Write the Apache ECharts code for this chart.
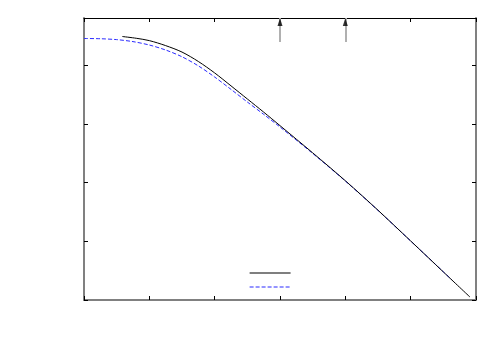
<!DOCTYPE html>
<html>
<head>
<meta charset="utf-8">
<script src="https://cdn.jsdelivr.net/npm/echarts@6/dist/echarts.min.js"></script>
<style>
  html, body { margin: 0; padding: 0; background: #fff; }
  #chart { width: 500px; height: 350px; }
</style>
</head>
<body>
<div id="chart"></div>
<script>
// values (axes carry no labels)
const blackX = [0.586, 0.8, 1.0, 1.25, 1.5, 1.75, 2.0, 2.25, 2.5, 2.75, 3.0, 3.5, 4.0, 4.5, 5.0, 5.5, 5.908];
const blackY = [4.485, 4.455, 4.415, 4.33, 4.22, 4.06, 3.865, 3.645, 3.422, 3.198, 2.968, 2.505, 2.03, 1.528, 1.005, 0.478, 0.05];

const blueX = [0, 0.25, 0.5, 0.75, 1.0, 1.25, 1.5, 1.75, 2.0, 2.25, 2.5, 2.75, 3.0, 3.5, 4.0, 4.5, 5.0, 5.5, 5.628];
const blueY = [4.451, 4.447, 4.432, 4.398, 4.34, 4.255, 4.14, 3.985, 3.795, 3.585, 3.37, 3.16, 2.945, 2.495, 2.025, 1.525, 1.004, 0.48, 0.345];

// vertical arrows on the top edge
const arrowX = [3, 4];
const arrowFrom = 4.39;
const arrowTo = 4.8;

const toPairs = (xs, ys) => xs.map((x, i) => [x, ys[i]]);

const myChart = echarts.init(document.getElementById('chart'));

const tick = () => ({ show: true, inside: true, length: 4, lineStyle: { color: '#000', width: 1 } });
const axisLine = (color, width) => ({ show: true, onZero: false, lineStyle: { color: color, width: width } });

myChart.setOption({
  animation: false,
  grid: { left: 84, right: 24, top: 18, bottom: 50 },
  legend: {
    orient: 'vertical',
    left: 249,
    top: 268,
    padding: 0,
    itemWidth: 41,
    itemHeight: 10,
    itemGap: 5,
    itemStyle: { opacity: 0 },
    lineStyle: { width: 1.2 },
    formatter: () => '',
    data: ['a', 'b']
  },
  xAxis: [
    {
      type: 'value', min: 0, max: 6, interval: 1, position: 'bottom',
      axisLine: axisLine('#808080', 2),
      axisTick: tick(),
      axisLabel: { show: false },
      splitLine: { show: false }
    },
    {
      type: 'value', min: 0, max: 6, interval: 1, position: 'top',
      axisLine: axisLine('#000', 1),
      axisTick: tick(),
      axisLabel: { show: false },
      splitLine: { show: false }
    }
  ],
  yAxis: [
    {
      type: 'value', min: 0, max: 4.8, interval: 1, position: 'left',
      axisLine: axisLine('#808080', 2),
      axisTick: tick(),
      axisLabel: { show: false },
      splitLine: { show: false }
    },
    {
      type: 'value', min: 0, max: 4.8, interval: 1, position: 'right',
      axisLine: axisLine('#808080', 2),
      axisTick: tick(),
      axisLabel: { show: false },
      splitLine: { show: false }
    }
  ],
  series: [
    {
      name: 'b',
      type: 'line',
      data: toPairs(blueX, blueY),
      smooth: 0.3,
      symbol: 'none',
      lineStyle: { color: '#2a2aff', width: 1, type: [4, 2] },
      itemStyle: { color: '#2a2aff' }
    },
    {
      name: 'a',
      type: 'line',
      data: toPairs(blackX, blackY),
      smooth: 0.3,
      symbol: 'none',
      lineStyle: { color: '#000', width: 1 },
      itemStyle: { color: '#000' },
      markLine: {
        silent: true,
        symbol: ['none', 'none'],
        label: { show: false },
        lineStyle: { color: '#b0b0b0', width: 2, type: 'solid' },
        data: arrowX.map(x => [{ coord: [x, arrowFrom] }, { coord: [x, arrowTo] }])
      }
    },
    {
      type: 'scatter',
      data: arrowX.map(x => [x, arrowTo]),
      symbol: 'triangle',
      symbolSize: [5, 8],
      symbolOffset: [0, 4],
      clip: false,
      silent: true,
      z: 5,
      itemStyle: { color: '#000' }
    }
  ]
});

window.onresize = function () {
  myChart.resize();
};
</script>
</body>
</html>
